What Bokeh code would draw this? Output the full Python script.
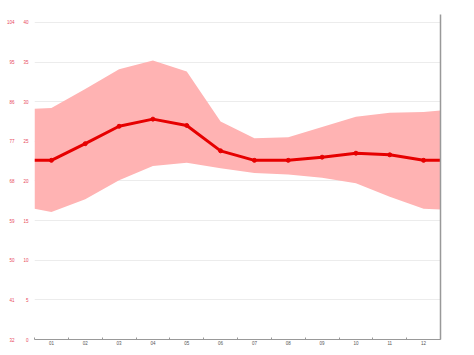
from bokeh.plotting import figure
from bokeh.models import (LinearAxis, Range1d, FixedTicker, Label)
from bokeh.embed import file_html
from bokeh.resources import INLINE

# ---- data (°C) ----
months = [1, 2, 3, 4, 5, 6, 7, 8, 9, 10, 11, 12]
month_labels = ["01", "02", "03", "04", "05", "06", "07", "08", "09", "10", "11", "12"]
temp_mean = [22.6, 24.7, 26.9, 27.8, 27.0, 23.8, 22.6, 22.6, 23.0, 23.5, 23.3, 22.6]
temp_max = [29.2, 31.6, 34.1, 35.2, 33.8, 27.5, 25.4, 25.5, 26.8, 28.1, 28.6, 28.7]
temp_min = [16.1, 17.7, 20.1, 21.9, 22.3, 21.6, 21.0, 20.8, 20.4, 19.7, 18.0, 16.5]
# values at the left (x=0.5) and right (x=12.5) edges of the chart
edge_mean = [22.6, 22.6]
edge_max = [29.1, 28.9]
edge_min = [16.5, 16.4]
edge_x = [0.5, 12.5]
c_ticks = [0, 5, 10, 15, 20, 25, 30, 35, 40]
f_ticks = [32, 41, 50, 59, 68, 77, 86, 95, 104]

RED = "#e60000"
BAND = "#ffb3b3"
LABEL_RED = "#e8485a"
FONT = "Liberation Sans"
FS = "4.5px"

xs = [edge_x[0]] + months + [edge_x[1]]
hi = [edge_max[0]] + temp_max + [edge_max[1]]
lo = [edge_min[0]] + temp_min + [edge_min[1]]
mn = [edge_mean[0]] + temp_mean + [edge_mean[1]]

p = figure(width=458, height=347, output_backend="svg", toolbar_location=None,
           x_range=Range1d(0.5, 12.5), y_range=Range1d(0, 41),
           min_border_left=34, min_border_right=18, min_border_top=14,
           min_border_bottom=7, y_axis_location=None, x_axis_location=None)
p.outline_line_color = None
p.background_fill_color = "white"
p.xgrid.visible = False
p.ygrid.ticker = FixedTicker(ticks=c_ticks[1:])
p.ygrid.grid_line_color = "#ececec"
p.ygrid.grid_line_width = 1

p.varea(x=xs, y1=lo, y2=hi, fill_color=BAND, fill_alpha=1.0)
p.line(x=xs, y=mn, line_color=RED, line_width=3)
p.scatter(x=months, y=temp_mean, size=4, color=RED)


def bare(ax):
    ax.major_tick_out = 0
    ax.major_tick_in = 0
    ax.minor_tick_out = 0
    ax.minor_tick_in = 0
    ax.major_tick_line_color = None
    ax.minor_tick_line_color = None
    ax.axis_label_standoff = 0
    ax.major_label_text_font = FONT
    ax.major_label_text_font_size = FS


# x axis
xa = LinearAxis(ticker=FixedTicker(ticks=months, minor_ticks=[m + 0.5 for m in [0] + months]),
                major_label_overrides={m: l for m, l in zip(months, month_labels)})
bare(xa)
xa.axis_line_color = "#999999"
xa.axis_line_width = 1
xa.minor_tick_line_color = "#999999"
xa.minor_tick_in = 2
xa.major_label_text_color = "#555555"
xa.major_label_standoff = 1
p.add_layout(xa, "below")

# °C axis (inner)
ca = LinearAxis(ticker=FixedTicker(ticks=c_ticks))
bare(ca)
ca.axis_line_color = None
ca.major_label_text_color = LABEL_RED
ca.major_label_standoff = 6
p.add_layout(ca, "left")

# °F axis (outer)
p.extra_y_ranges = {"f": Range1d(32, 32 + 41 * 1.8)}
fa = LinearAxis(y_range_name="f", ticker=FixedTicker(ticks=f_ticks))
bare(fa)
fa.axis_line_color = None
fa.major_label_text_color = LABEL_RED
fa.major_label_standoff = 6
p.add_layout(fa, "left")

# right axis line
ra = LinearAxis(ticker=FixedTicker(ticks=[]))
bare(ra)
ra.axis_line_color = "#999999"
ra.axis_line_width = 1.5
ra.major_label_text_font_size = "0px"
p.add_layout(ra, "right")

for txt, sx in [("°F", -22), ("°C", -8)]:
    p.add_layout(Label(x=sx, y=327, x_units="screen", y_units="screen", text=txt,
                       text_font=FONT, text_font_size=FS, text_color=LABEL_RED,
                       text_align="center", text_baseline="middle"))

open("out.html", "w").write(file_html(p, INLINE))
